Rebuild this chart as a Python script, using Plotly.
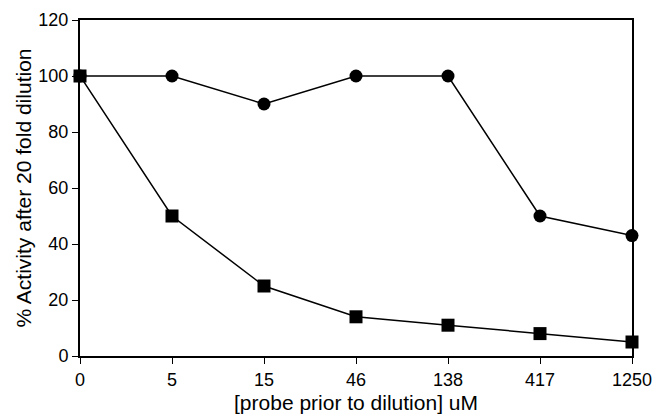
import plotly.graph_objects as go

categories = ["0", "5", "15", "46", "138", "417", "1250"]
circle_values = [100, 100, 90, 100, 100, 50, 43]
square_values = [100, 50, 25, 14, 11, 8, 5]
y_ticks = [0, 20, 40, 60, 80, 100, 120]

x_idx = list(range(len(categories)))

fig = go.Figure()
fig.add_trace(go.Scatter(
    x=x_idx, y=circle_values, mode="lines+markers",
    line=dict(color="black", width=1.5),
    marker=dict(symbol="circle", size=13, color="black"),
    cliponaxis=False, showlegend=False))
fig.add_trace(go.Scatter(
    x=x_idx, y=square_values, mode="lines+markers",
    line=dict(color="black", width=1.5),
    marker=dict(symbol="square", size=13, color="black"),
    cliponaxis=False, showlegend=False))

font_family = "Liberation Sans, Arial, sans-serif"
fig.update_layout(
    width=658, height=416,
    margin=dict(l=80, r=26, t=20, b=60),
    paper_bgcolor="white", plot_bgcolor="white",
    font=dict(family=font_family, size=18, color="black"),
    xaxis=dict(
        range=[0, 6], tickmode="array", tickvals=x_idx, ticktext=categories,
        showgrid=False, zeroline=False, showline=True, linecolor="black", linewidth=2,
        mirror=True, ticks="outside", ticklen=6, tickwidth=1, tickcolor="black",
        automargin=False,
        title=dict(text="[probe prior to dilution] uM", font=dict(size=21), standoff=7),
    ),
    yaxis=dict(
        range=[0, 120], tickmode="array", tickvals=y_ticks,
        showgrid=False, zeroline=False, showline=True, linecolor="black", linewidth=2,
        mirror=True, ticks="outside", ticklen=6, tickwidth=1, tickcolor="black",
        automargin=False,
        title=dict(text="% Activity after 20 fold dilution", font=dict(size=21), standoff=1),
    ),
)

fig.write_html("out.html", config={"displayModeBar": False},
               post_script="document.body.style.margin='0';")
